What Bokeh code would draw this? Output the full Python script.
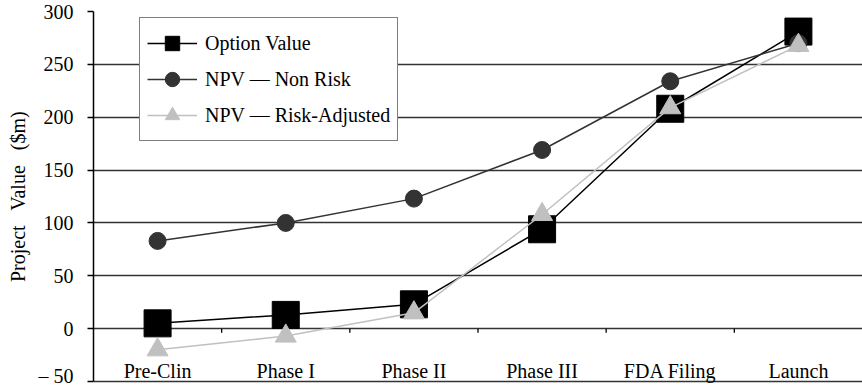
from bokeh.plotting import figure
from bokeh.models import Range1d, FixedTicker, Legend, LegendItem
from bokeh.embed import file_html
from bokeh.resources import INLINE

stages = ["Pre-Clin", "Phase I", "Phase II", "Phase III", "FDA Filing", "Launch"]
option_value = [5, 13, 23, 94, 208, 281]
npv_non_risk = [83, 100, 123, 169, 234, 270]
npv_risk_adj = [-20, -7, 15, 108, 209, 268]
y_ticks = [-50, 0, 50, 100, 150, 200, 250, 300]

FONT = "Liberation Serif"
FS = "20px"

xs = list(range(len(stages)))
bounds = [i + 0.5 for i in range(len(stages) - 1)]

p = figure(width=862, height=386,
           x_range=Range1d(-0.5, len(stages) - 0.5), y_range=Range1d(y_ticks[0], y_ticks[-1]),
           output_backend="svg", toolbar_location=None, title=None,
           min_border_left=93, min_border_right=0, min_border_top=11, min_border_bottom=5)
p.outline_line_color = None
p.xgrid.visible = False

# y axis
yax = p.yaxis[0]
yax.ticker = FixedTicker(ticks=y_ticks)
yax.major_label_overrides = {-50: "\u2013 50"}
yax.major_label_text_font = FONT
yax.major_label_text_font_size = FS
yax.major_label_text_color = "black"
yax.major_label_standoff = 14
yax.major_tick_out = 6
yax.major_tick_in = 0
yax.minor_tick_line_color = None
yax.axis_line_color = "black"
yax.axis_line_width = 1.5
yax.major_tick_line_color = "black"
yax.major_tick_line_width = 1.3
yax.axis_label = "Project\u00a0\u00a0 Value\u00a0\u00a0 ($m)"
yax.axis_label_text_font = FONT
yax.axis_label_text_font_size = FS
yax.axis_label_text_font_style = "normal"
yax.axis_label_text_color = "black"
yax.axis_label_standoff = 7

# x axis: category names sit just above the bottom line
xax = p.xaxis[0]
xax.ticker = FixedTicker(ticks=xs)
xax.major_label_overrides = {i: s for i, s in zip(xs, stages)}
xax.major_label_text_font = FONT
xax.major_label_text_font_size = FS
xax.major_label_text_color = "black"
xax.major_tick_in = 0
xax.major_tick_out = 0
xax.major_tick_line_color = None
xax.minor_tick_line_color = None
xax.major_label_standoff = -22
xax.axis_line_color = "#333333"
xax.axis_line_width = 1.3

p.ygrid.ticker = FixedTicker(ticks=y_ticks)
p.ygrid.grid_line_color = "#333333"
p.ygrid.grid_line_width = 1.3

# category boundary ticks on the zero line
p.segment(x0=bounds, y0=0, x1=bounds, y1=-4, line_color="black", line_width=1.3)

l1 = p.line(xs, option_value, line_color="black", line_width=1.5)
m1 = p.scatter(xs, option_value, marker="square", size=27, fill_color="black", line_color="black")
l2 = p.line(xs, npv_non_risk, line_color="#333333", line_width=1.5)
m2 = p.scatter(xs, npv_non_risk, marker="circle", size=17, fill_color="#333333", line_color="#333333")
l3 = p.line(xs, npv_risk_adj, line_color="#c0c0c0", line_width=1.5)
m3 = p.scatter(xs, npv_risk_adj, marker="triangle", size=21, fill_color="#c0c0c0", line_color="#c0c0c0")

legend = Legend(items=[
    LegendItem(label="Option Value", renderers=[l1, m1]),
    LegendItem(label="NPV \u2014 Non Risk", renderers=[l2, m2]),
    LegendItem(label="NPV \u2014 Risk-Adjusted", renderers=[l3, m3]),
], location=(46, 240))
legend.label_text_font = FONT
legend.label_text_font_size = FS
legend.label_text_color = "black"
legend.glyph_width = 50
legend.glyph_height = 36
legend.label_height = 36
legend.spacing = 0
legend.padding = 7
legend.margin = 0
legend.label_standoff = 8
legend.border_line_color = "black"
legend.border_line_width = 1.5
legend.background_fill_color = "white"
legend.background_fill_alpha = 1
p.add_layout(legend)

open("out.html", "w").write(file_html(p, INLINE))
